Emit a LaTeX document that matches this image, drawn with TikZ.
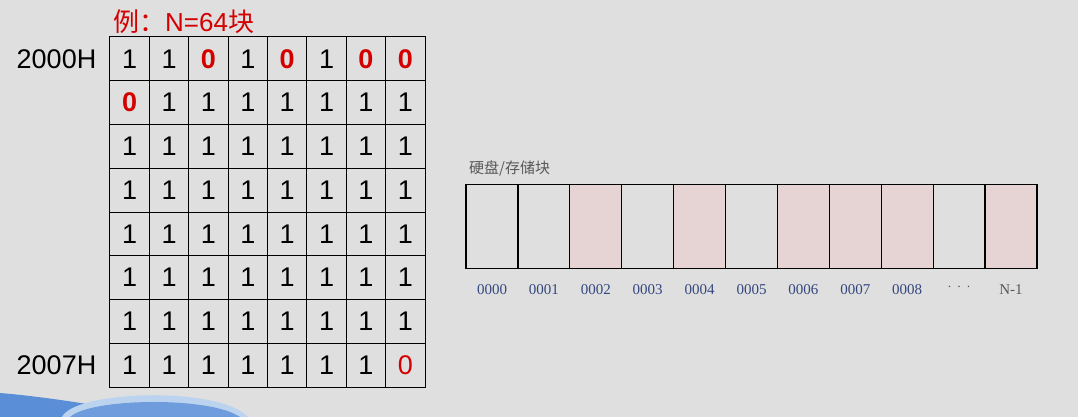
\documentclass[tikz,border=0pt]{standalone}
\usepackage{fontspec}
\setmainfont{Liberation Sans}
\newfontfamily\cjk{Noto Sans CJK SC}
\newfontfamily\serifnum{Liberation Serif}
\usetikzlibrary{positioning}

\definecolor{slidebg}{HTML}{DFDFDF}
\definecolor{usedblk}{HTML}{E6D3D3}
\definecolor{hint}{HTML}{D40000}
\definecolor{blknum}{HTML}{34477F}
\definecolor{swooshlight}{HTML}{BCD3EF}
\definecolor{swooshmid}{HTML}{6F9CDC}
\definecolor{swooshdark}{HTML}{5A8ED6}

\begin{document}
\begin{tikzpicture}[x=1pt, y=-1pt,
    bitcell/.style={draw, line width=1pt, minimum width=39.4pt, minimum height=43.75pt, inner sep=0pt, font=\fontsize{27}{27}\selectfont},
    bit1/.style={bitcell},
    bit0/.style={bitcell, text=hint, font=\fontsize{27}{27}\selectfont\bfseries},
    bit9/.style={bitcell, text=hint},
    addrlabel/.style={font=\fontsize{27}{27}\selectfont, inner sep=0pt},
    diskblk/.style={draw, line width=1.2pt, minimum width=51.9pt, minimum height=83.8pt, inner sep=0pt, outer sep=0pt},
    usedblock/.style={diskblk, fill=usedblk},
    blklabel/.style={font=\serifnum\fontsize{15}{15}\selectfont, text=blknum, inner sep=0pt}]
        % background and slide decoration
        \fill[slidebg] (0,0) rectangle (1078,417);
        \fill[swooshdark] (0,393) .. controls (60,398) and (120,410) .. (170,417) -- (0,417) -- cycle;
        \fill[swooshlight] (62,417) .. controls (75,390) and (220,386) .. (248,417) -- cycle;
        \fill[swooshmid] (70,417) .. controls (90,398) and (210,396) .. (240,417) -- cycle;

        % bitmap 8 x 8 (9 = free block, not marked bold)
        \foreach \r/\row in {1/{1,1,0,1,0,1,0,0}, 2/{0,1,1,1,1,1,1,1}, 3/{1,1,1,1,1,1,1,1}, 4/{1,1,1,1,1,1,1,1},
                             5/{1,1,1,1,1,1,1,1}, 6/{1,1,1,1,1,1,1,1}, 7/{1,1,1,1,1,1,1,1}, 8/{1,1,1,1,1,1,1,9}} {
          \foreach \b [count=\c] in \row {
            \node[bit\b] (c-\r-\c) at ({110+39.375*(\c-0.5)}, {37+43.75*(\r-0.5)}) {\ifnum\b=1 1\else 0\fi};
          }
        }

        \node[font=\fontsize{26}{26}\selectfont, text=hint, anchor=base west, inner sep=0pt] (title) at (113,32) {{\cjk 例：}N=64{\cjk 块}};
        \node[addrlabel, left=13pt of c-1-1] (a2000) {2000H};
        \node[addrlabel, left=13pt of c-8-1] (a2007) {2007H};

        % disk blocks
        \node[diskblk] (b0) at (492,226.4) {};
        \node[diskblk, right=0pt of b0] (b1) {};
        \node[usedblock, right=0pt of b1] (b2) {};
        \node[diskblk, right=0pt of b2] (b3) {};
        \node[usedblock, right=0pt of b3] (b4) {};
        \node[diskblk, right=0pt of b4] (b5) {};
        \node[usedblock, right=0pt of b5] (b6) {};
        \node[usedblock, right=0pt of b6] (b7) {};
        \node[usedblock, right=0pt of b7] (b8) {};
        \node[diskblk, right=0pt of b8] (bdots) {};
        \node[usedblock, right=0pt of bdots] (blast) {};

        \node[font=\cjk\fontsize{15}{15}\selectfont, text=black!65, anchor=south west, inner sep=0pt] (disk) at (469,176) {硬盘/存储块};

        \node[blklabel, below=16pt of b0] {0000};
        \node[blklabel, below=16pt of b1] {0001};
        \node[blklabel, below=16pt of b2] {0002};
        \node[blklabel, below=16pt of b3] {0003};
        \node[blklabel, below=16pt of b4] {0004};
        \node[blklabel, below=16pt of b5] {0005};
        \node[blklabel, below=16pt of b6] {0006};
        \node[blklabel, below=16pt of b7] {0007};
        \node[blklabel, below=16pt of b8] {0008};
        \node[blklabel, below=16pt of bdots, text=black!70] {$\cdot\,\cdot\,\cdot$};
        \node[blklabel, below=16pt of blast, text=black!65] {N-1};
\end{tikzpicture}
\end{document}
